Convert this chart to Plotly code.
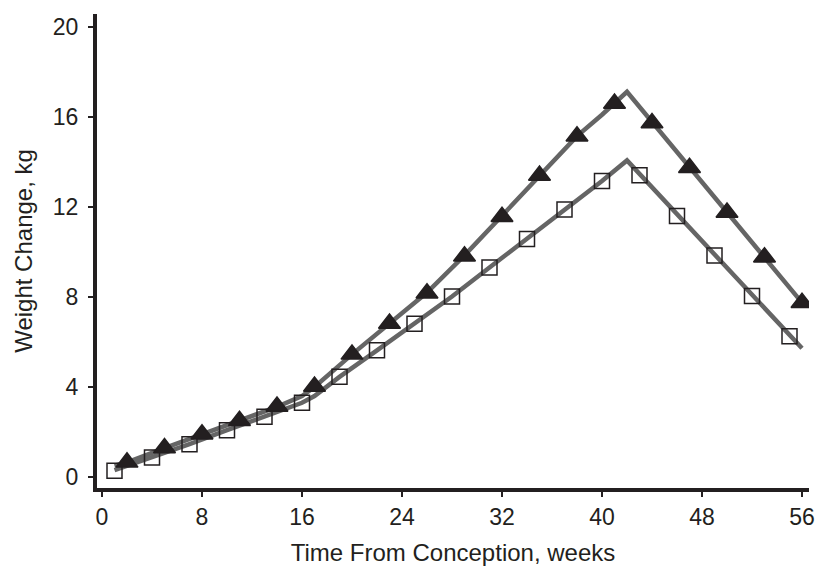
import plotly.graph_objects as go

# Marker data (weeks, kg)
tri_weeks = [2, 5, 8, 11, 14, 17, 20, 23, 26, 29, 32, 35, 38, 41, 44, 47, 50, 53, 56]
tri_vals = [0.65, 1.29, 1.9, 2.5, 3.13, 4.02, 5.45, 6.82, 8.17, 9.81, 11.57, 13.4, 15.15, 16.6, 15.74, 13.75, 11.76, 9.77, 7.75]
sq_weeks = [1, 4, 7, 10, 13, 16, 19, 22, 25, 28, 31, 34, 37, 40, 43, 46, 49, 52, 55]
sq_vals = [0.28, 0.87, 1.46, 2.08, 2.68, 3.3, 4.45, 5.63, 6.81, 8.02, 9.31, 10.58, 11.89, 13.16, 13.41, 11.6, 9.84, 8.05, 6.25]

# Fitted curves
tri_line_weeks = [1, 2, 5, 8, 11, 14, 16, 17, 20, 23, 26, 29, 32, 35, 38, 40, 42, 56]
tri_line_vals = [0.5, 0.65, 1.28, 1.88, 2.48, 3.12, 3.6, 4.0, 5.45, 6.85, 8.2, 9.85, 11.6, 13.4, 15.15, 16.1, 17.12, 7.75]
sq_line_weeks = [1, 4, 7, 10, 13, 16, 17, 19, 22, 25, 28, 31, 34, 37, 40, 42, 56]
sq_line_vals = [0.3, 0.87, 1.46, 2.08, 2.68, 3.3, 3.6, 4.45, 5.63, 6.81, 8.02, 9.31, 10.58, 11.89, 13.16, 14.07, 5.72]

x_ticks = [0, 8, 16, 24, 32, 40, 48, 56]
y_ticks = [0, 4, 8, 12, 16, 20]

LINE = "#656565"
INK = "#231f20"

fig = go.Figure()
fig.add_trace(go.Scatter(x=tri_line_weeks, y=tri_line_vals, mode="lines",
                         line=dict(color=LINE, width=4.5), showlegend=False, hoverinfo="skip"))
fig.add_trace(go.Scatter(x=sq_line_weeks, y=sq_line_vals, mode="lines",
                         line=dict(color=LINE, width=4.5), showlegend=False, hoverinfo="skip"))
fig.add_trace(go.Scatter(x=sq_weeks, y=sq_vals, mode="markers",
                         marker=dict(symbol="square-open", size=15, color=INK,
                                     line=dict(width=1.5, color=INK)),
                         showlegend=False))
fig.add_trace(go.Scatter(x=tri_weeks, y=tri_vals, mode="markers",
                         marker=dict(symbol="triangle-up", size=19, color=INK,
                                     line=dict(width=1.5, color=INK)),
                         showlegend=False))

font = "Liberation Sans, Arial, sans-serif"
fig.update_layout(
    width=817, height=566,
    margin=dict(l=97, r=8, t=14, b=78, autoexpand=False),
    plot_bgcolor="white", paper_bgcolor="white",
    font=dict(family=font, color=INK),
)
fig.update_xaxes(
    range=[-0.4, 56.56], tickvals=x_ticks, ticktext=[str(v) for v in x_ticks],
    showline=True, linecolor=INK, linewidth=4, mirror=False,
    ticks="outside", ticklen=5, tickwidth=1.5, tickcolor=INK,
    showgrid=False, zeroline=False, automargin=False,
    tickfont=dict(size=23, color=INK),
    title=dict(text="Time From Conception, weeks", font=dict(size=24, color=INK), standoff=18),
)
fig.update_yaxes(
    range=[-0.49, 20.58], tickvals=y_ticks, ticktext=[str(v) for v in y_ticks],
    showline=True, linecolor=INK, linewidth=4, mirror=False,
    ticks="outside", ticklen=5, tickwidth=1.5, tickcolor=INK,
    showgrid=False, zeroline=False, automargin=False,
    ticklabelstandoff=5,
    tickfont=dict(size=23, color=INK),
    title=dict(text="Weight Change, kg", font=dict(size=24, color=INK), standoff=14),
)

fig.write_html(
    "out.html",
    config={"displayModeBar": False},
    post_script="document.body.style.margin='0';document.documentElement.style.overflow='hidden';",
)
